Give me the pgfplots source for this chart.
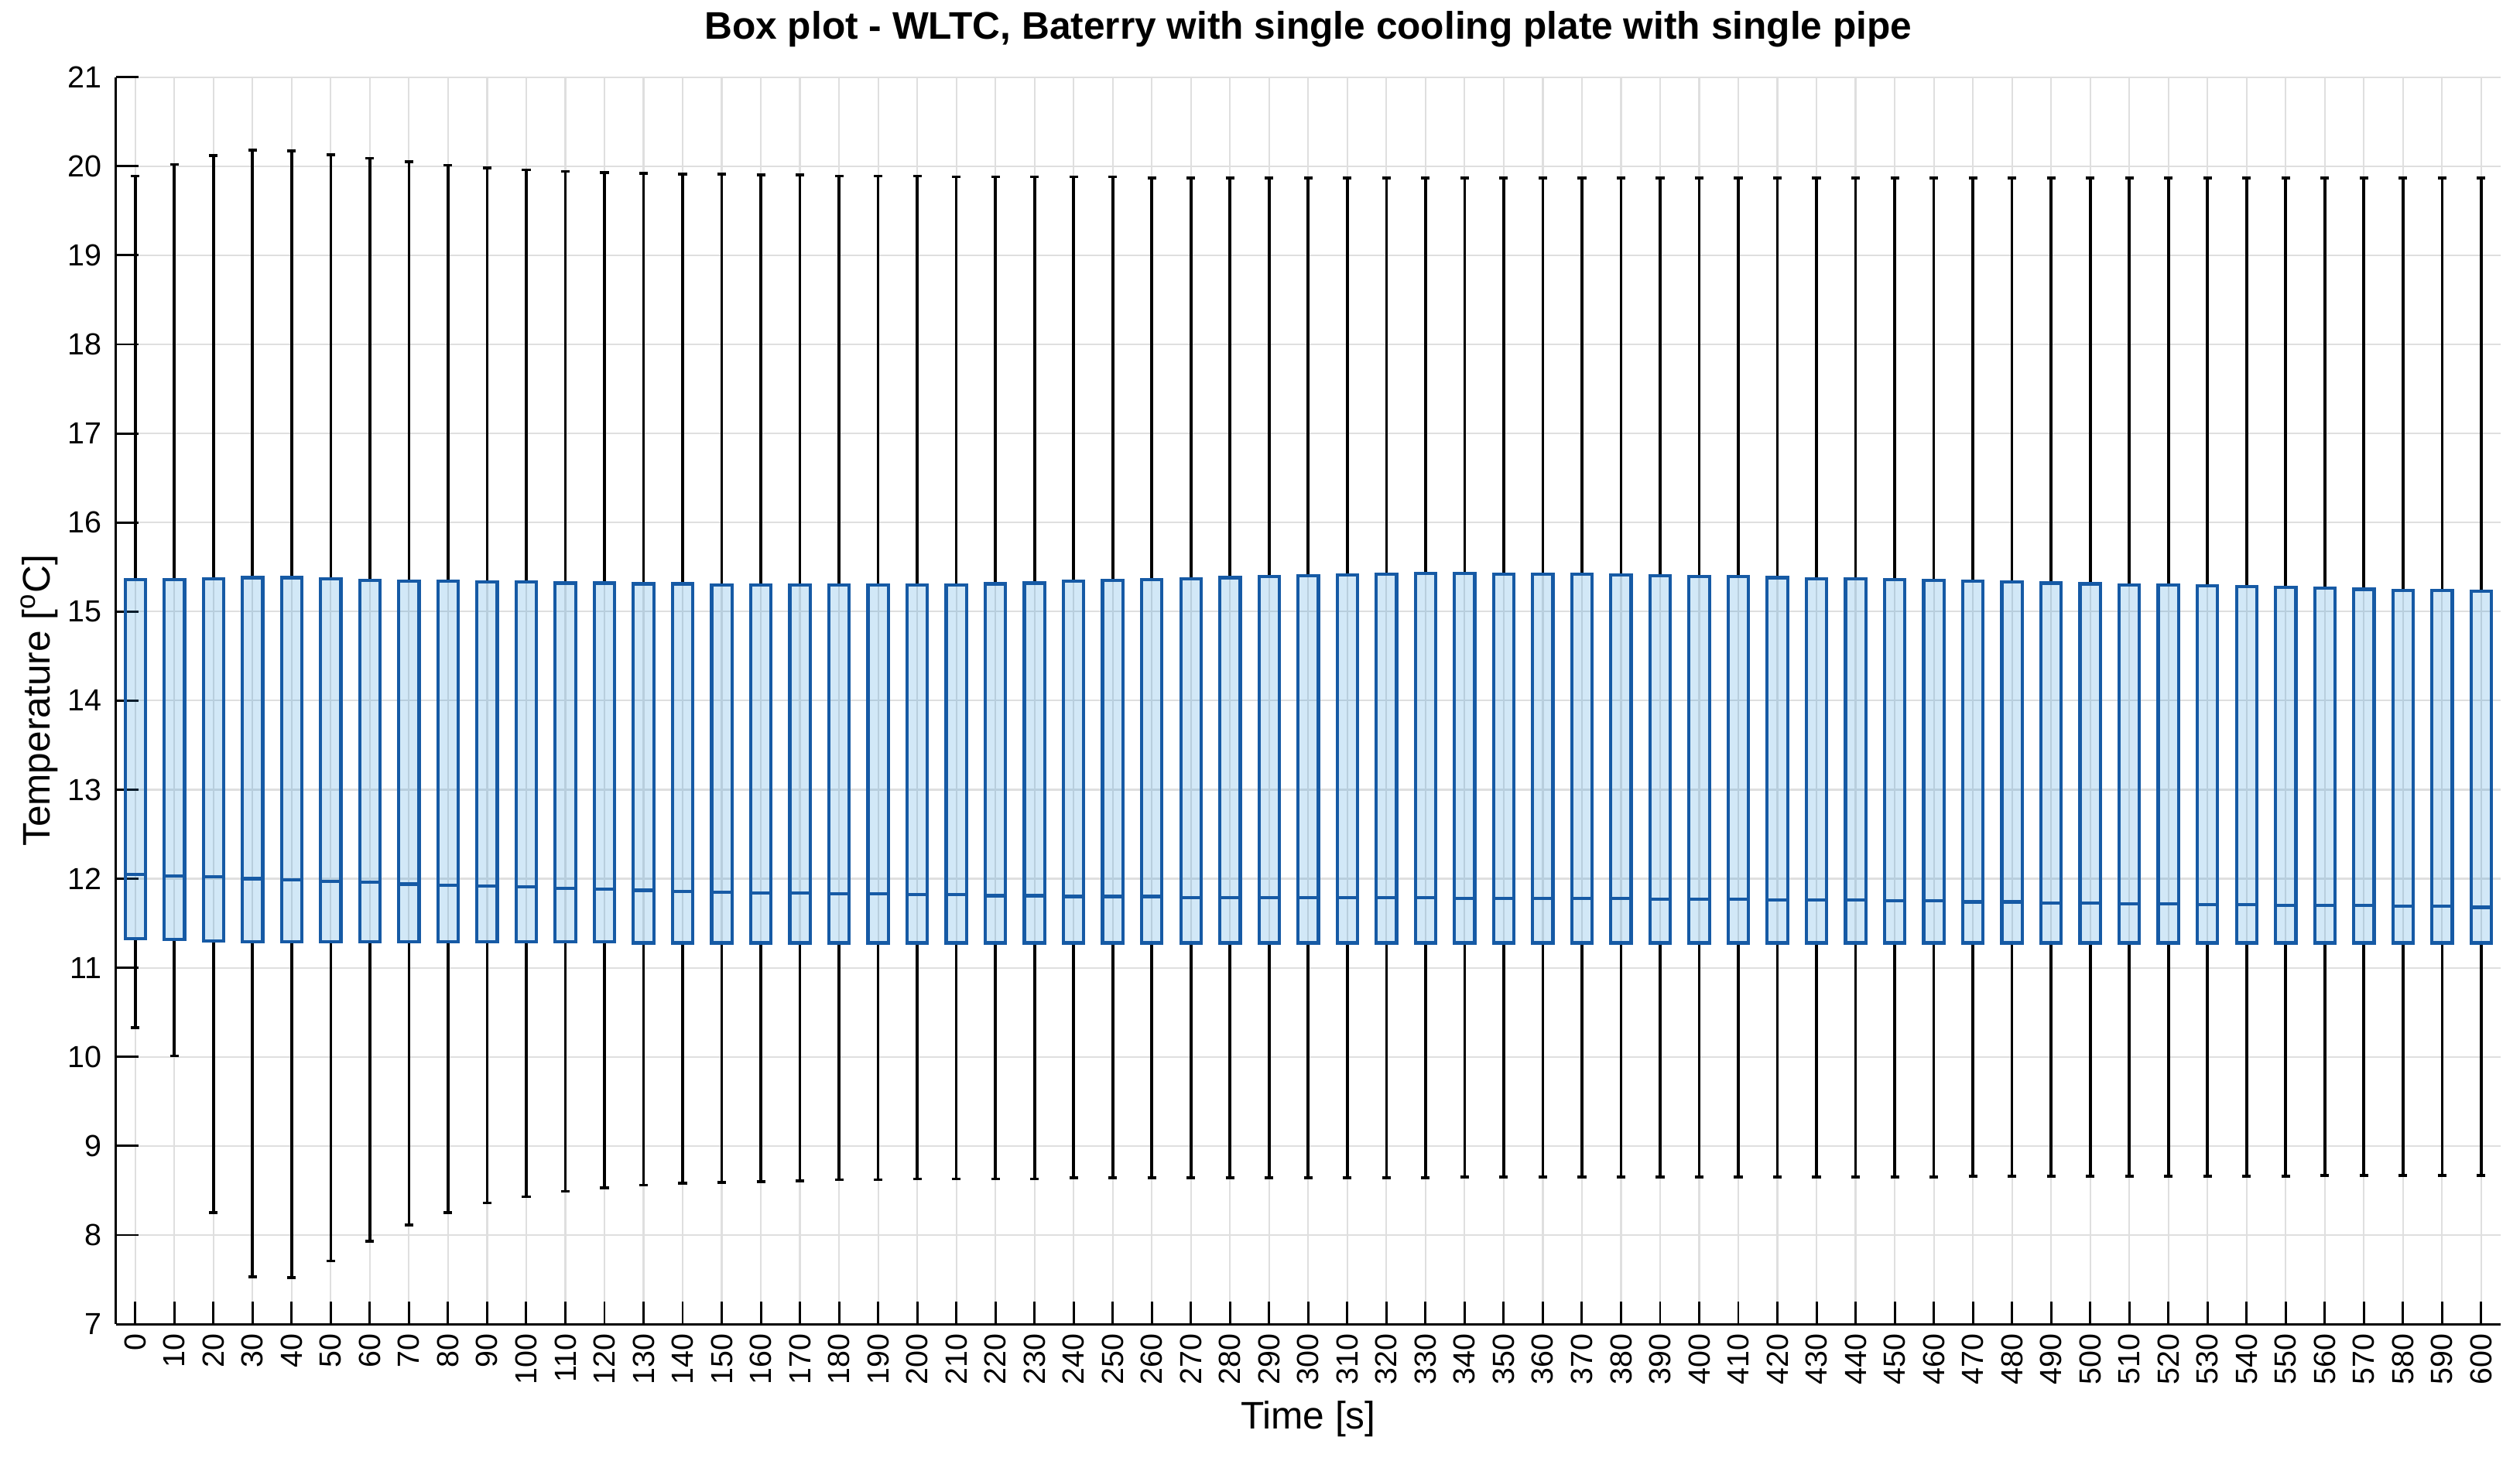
\documentclass[border=0pt]{standalone}
\usepackage{fontspec}
\setmainfont{Liberation Sans}
\usepackage{pgfplots}
\pgfplotsset{compat=1.18}
\usepgfplotslibrary{statistics}
\definecolor{boxblue}{RGB}{22,90,165}
\definecolor{boxfill}{RGB}{30,140,215}

% one box: position, lower whisker, q1, median, q3, upper whisker
\newcommand{\bx}[6]{\addplot[bstyle, boxplot prepared={draw position=#1,
  lower whisker=#2, lower quartile=#3, median=#4, upper quartile=#5,
  upper whisker=#6}] coordinates {};}

\begin{document}
\begin{tikzpicture}
\useasboundingbox (-1.44,-1.70) rectangle (29.92,16.48);
\begin{axis}[
    scale only axis, width=29.68cm, height=15.52cm,
    xmin=-0.5, xmax=60.5, ymin=7, ymax=21,
    axis x line*=bottom, axis y line*=left,
    axis line style={black, line width=0.8pt},
    tick align=inside, major tick length=0.28cm,
    tick style={black, line width=0.8pt},
    xtick={0,...,60},
    xticklabels={0,10,20,30,40,50,60,70,80,90,100,110,120,130,140,150,160,170,180,190,200,
      210,220,230,240,250,260,270,280,290,300,310,320,330,340,350,360,370,380,390,400,
      410,420,430,440,450,460,470,480,490,500,510,520,530,540,550,560,570,580,590,600},
    ytick={7,...,21},
    xticklabel style={rotate=90, anchor=east},
    yticklabel style={xshift=-0.05cm},
    ticklabel style={font=\fontsize{10.8}{13}\selectfont},
    /pgf/number format/assume math mode=true,
    grid=major, major grid style={gray!25, line width=0.6pt},
    title={Box plot - WLTC, Baterry with single cooling plate with single pipe},
    title style={at={(axis description cs:0.5,1.0168)}, anchor=base,
      font=\fontsize{13.6}{16}\selectfont\bfseries},
    xlabel={Time [s]},
    xlabel style={at={(axis description cs:0.5,-0.0838)}, anchor=base,
      font=\fontsize{13.6}{16}\selectfont},
    ylabel={Temperature [\textsuperscript{o}C]},
    ylabel style={at={(axis description cs:-0.0276,0.5)}, anchor=base,
      font=\fontsize{13.6}{16}\selectfont},
    bstyle/.style={boxblue, line width=1.15pt},
    boxplot/draw direction=y,
    boxplot/box extend=0.52,
    boxplot/whisker extend=0.22,
    boxplot/every box/.style={draw=boxblue, fill=boxfill, fill opacity=0.2},
    boxplot/every whisker/.style={black, line width=1pt},
    boxplot/every median/.style={draw=boxblue, line width=1.15pt},
]
\bx{0}{10.33}{11.33}{12.05}{15.36}{19.89}
\bx{1}{10.01}{11.32}{12.03}{15.36}{20.02}
\bx{2}{8.25}{11.30}{12.02}{15.37}{20.12}
\bx{3}{7.53}{11.29}{12.00}{15.38}{20.18}
\bx{4}{7.52}{11.29}{11.99}{15.38}{20.17}
\bx{5}{7.71}{11.29}{11.97}{15.37}{20.13}
\bx{6}{7.93}{11.29}{11.96}{15.35}{20.09}
\bx{7}{8.11}{11.29}{11.94}{15.34}{20.05}
\bx{8}{8.25}{11.29}{11.93}{15.34}{20.01}
\bx{9}{8.36}{11.29}{11.92}{15.33}{19.98}
\bx{10}{8.43}{11.29}{11.91}{15.33}{19.96}
\bx{11}{8.49}{11.29}{11.89}{15.32}{19.94}
\bx{12}{8.53}{11.29}{11.88}{15.32}{19.93}
\bx{13}{8.56}{11.28}{11.87}{15.31}{19.92}
\bx{14}{8.58}{11.28}{11.86}{15.31}{19.91}
\bx{15}{8.59}{11.28}{11.85}{15.30}{19.91}
\bx{16}{8.60}{11.28}{11.84}{15.30}{19.90}
\bx{17}{8.61}{11.28}{11.84}{15.30}{19.90}
\bx{18}{8.62}{11.28}{11.83}{15.30}{19.89}
\bx{19}{8.62}{11.28}{11.83}{15.30}{19.89}
\bx{20}{8.63}{11.28}{11.82}{15.30}{19.89}
\bx{21}{8.63}{11.28}{11.82}{15.30}{19.88}
\bx{22}{8.63}{11.28}{11.81}{15.31}{19.88}
\bx{23}{8.63}{11.28}{11.81}{15.32}{19.88}
\bx{24}{8.64}{11.28}{11.80}{15.34}{19.88}
\bx{25}{8.64}{11.28}{11.80}{15.35}{19.88}
\bx{26}{8.64}{11.28}{11.80}{15.36}{19.87}
\bx{27}{8.64}{11.28}{11.79}{15.37}{19.87}
\bx{28}{8.64}{11.28}{11.79}{15.38}{19.87}
\bx{29}{8.64}{11.28}{11.79}{15.39}{19.87}
\bx{30}{8.64}{11.28}{11.79}{15.40}{19.87}
\bx{31}{8.64}{11.28}{11.79}{15.41}{19.87}
\bx{32}{8.64}{11.28}{11.79}{15.42}{19.87}
\bx{33}{8.64}{11.28}{11.79}{15.43}{19.87}
\bx{34}{8.65}{11.28}{11.78}{15.43}{19.87}
\bx{35}{8.65}{11.28}{11.78}{15.42}{19.87}
\bx{36}{8.65}{11.28}{11.78}{15.42}{19.87}
\bx{37}{8.65}{11.28}{11.78}{15.42}{19.87}
\bx{38}{8.65}{11.28}{11.78}{15.41}{19.87}
\bx{39}{8.65}{11.28}{11.77}{15.40}{19.87}
\bx{40}{8.65}{11.28}{11.77}{15.39}{19.87}
\bx{41}{8.65}{11.28}{11.77}{15.39}{19.87}
\bx{42}{8.65}{11.28}{11.76}{15.38}{19.87}
\bx{43}{8.65}{11.28}{11.76}{15.37}{19.87}
\bx{44}{8.65}{11.28}{11.76}{15.37}{19.87}
\bx{45}{8.65}{11.28}{11.75}{15.36}{19.87}
\bx{46}{8.65}{11.28}{11.75}{15.35}{19.87}
\bx{47}{8.66}{11.28}{11.74}{15.34}{19.87}
\bx{48}{8.66}{11.28}{11.74}{15.33}{19.87}
\bx{49}{8.66}{11.28}{11.73}{15.32}{19.87}
\bx{50}{8.66}{11.28}{11.73}{15.31}{19.87}
\bx{51}{8.66}{11.28}{11.72}{15.30}{19.87}
\bx{52}{8.66}{11.28}{11.72}{15.30}{19.87}
\bx{53}{8.66}{11.28}{11.71}{15.29}{19.87}
\bx{54}{8.66}{11.28}{11.71}{15.28}{19.87}
\bx{55}{8.66}{11.28}{11.70}{15.27}{19.87}
\bx{56}{8.67}{11.28}{11.70}{15.26}{19.87}
\bx{57}{8.67}{11.28}{11.70}{15.25}{19.87}
\bx{58}{8.67}{11.28}{11.69}{15.24}{19.87}
\bx{59}{8.67}{11.28}{11.69}{15.24}{19.87}
\bx{60}{8.67}{11.28}{11.68}{15.23}{19.87}
\end{axis}
\end{tikzpicture}
\end{document}
